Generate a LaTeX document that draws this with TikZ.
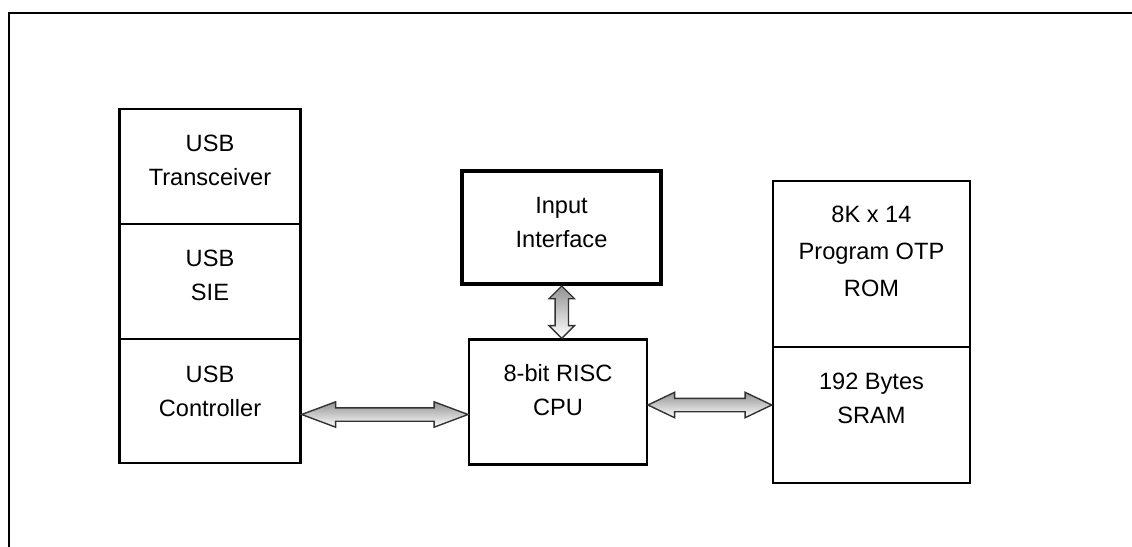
\documentclass[tikz,border=0pt]{standalone}
\usepackage{fontspec}
\setmainfont{Liberation Sans}
\usetikzlibrary{shapes.arrows,calc}

\begin{document}
\begin{tikzpicture}[x=0.5pt,y=-0.5pt,
    blk/.style={draw, line width=1.2pt, rectangle, inner sep=0pt},
    lbl/.style={align=center, font=\fontsize{11.8}{17}\selectfont, inner sep=0pt},
    dblarrow/.style={double arrow, draw=black!80, line width=0.7pt, inner sep=3pt,
        double arrow head extend=3pt, top color=gray!85, bottom color=white}]
    \useasboundingbox (0,0) rectangle (1132,547);
    \clip (0,0) rectangle (1132,547);
    % Draw the outer frame
    \draw[line width=1.4pt] (9,13) rectangle (1150,570);
    % Draw the USB column
    \node[blk, minimum width=90.5pt, minimum height=57.5pt] (usbxcv) at (210,166.5) {};
    \node[blk, minimum width=90.5pt, minimum height=57.5pt] (usbsie) at (210,281.5) {};
    \node[blk, minimum width=90.5pt, minimum height=62pt] (usbctl) at (210,401) {};
    \node[lbl] (usbxcvtxt) at ($(usbxcv)+(0,-6.5)$) {USB\\Transceiver};
    \node[lbl] (usbsietxt) at ($(usbsie)+(0,-6)$) {USB\\SIE};
    \node[lbl] (usbctltxt) at ($(usbctl)+(0,-9.5)$) {USB\\Controller};
    % Draw the input interface and the CPU
    \node[blk, line width=2pt, minimum width=99.5pt, minimum height=56.5pt] (inif) at (561.5,227.5) {};
    \node[blk, minimum width=88.75pt, minimum height=62.5pt] (cpu) at (558,402) {};
    \node[lbl] (iniftxt) at ($(inif)+(0,-5)$) {Input\\Interface};
    \node[lbl] (cputxt) at ($(cpu)+(0,-12)$) {8-bit RISC\\CPU};
    % Draw the memory column
    \node[blk, minimum width=98.5pt, minimum height=83pt] (rom) at (871.5,264) {};
    \node[blk, minimum width=98.5pt, minimum height=68pt] (sram) at (871.5,415) {};
    \node[lbl] (romtxt) at ($(rom)+(0,-13)$) {8K x 14\\[1.5pt]Program OTP\\[1.5pt]ROM};
    \node[lbl] (sramtxt) at ($(sram)+(0,-17)$) {192 Bytes\\SRAM};
    % Draw the hollow double arrows
    \path let \p1=(usbctl.east), \p2=(cpu.west) in
        node[dblarrow, double arrow tip angle=41, minimum height={\x2-\x1}] (lnk1)
        at ($(\p1)!.5!(\p2)+(0,13)$) {};
    \path let \p1=(cpu.east), \p2=(sram.west) in
        node[dblarrow, double arrow tip angle=51, minimum height={\x2-\x1}] (lnk2)
        at ($(\p1)!.5!(\p2)+(0,-3.5)$) {};
    \path let \p1=(inif.south), \p2=(cpu.north) in
        node[dblarrow, rotate=90, double arrow tip angle=90, minimum height={\y1-\y2}] (lnk3)
        at ($(\p1)!.5!(\p2)+(2,0)$) {};
\end{tikzpicture}
\end{document}
